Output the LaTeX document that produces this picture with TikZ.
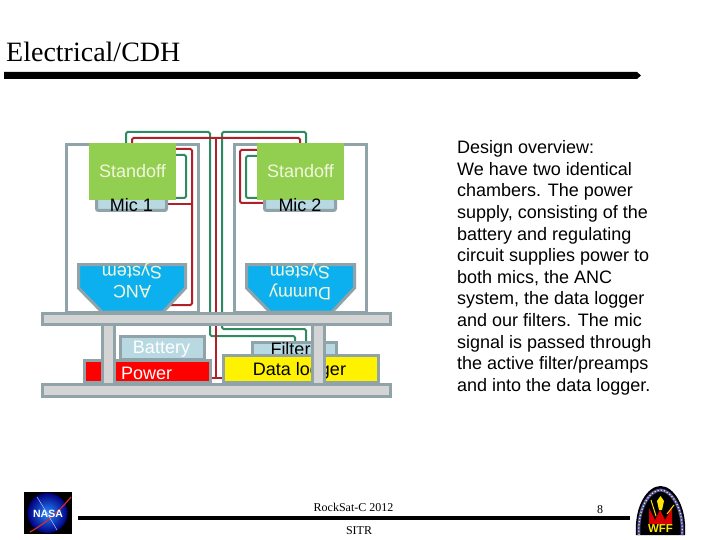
\documentclass[tikz,border=0pt]{standalone}
\usepackage{fontspec}
\setmainfont{Liberation Sans}
\newfontfamily\timesf{Liberation Serif}
\definecolor{edgegray}{HTML}{8FA3A8}
\definecolor{shelfgray}{HTML}{D4D4D4}
\definecolor{pale}{HTML}{B8D9E2}
\definecolor{leaf}{HTML}{92CF50}
\definecolor{sky}{HTML}{0DB0EE}
\definecolor{wirer}{HTML}{B02028}
\definecolor{wireg}{HTML}{2E8B60}
\definecolor{softw}{HTML}{F2F7DC}
\tikzset{
 box/.style={draw=edgegray,line width=3pt,inner sep=0,outer sep=0,font=\fontsize{18}{20}\selectfont,text=black},
 leafbox/.style={fill=leaf,inner sep=0,outer sep=0,font=\fontsize{18}{20}\selectfont,text=softw},
 wr/.style={draw=wirer,line width=2pt,rounded corners=1.5pt},
 wg/.style={draw=wireg,line width=2pt,rounded corners=1.5pt},
 lab/.style={inner sep=0,font=\fontsize{18}{20}\selectfont},
 serifsmall/.style={inner sep=0,font=\timesf\fontsize{12}{14}\selectfont},
}
\begin{document}
\begin{tikzpicture}[x=1pt,y=-1pt]
\useasboundingbox (0,0) rectangle (720,540);
\fill[white] (0,0) rectangle (720,540);
% anchors for wires
\coordinate (anchook) at (169,305);
\node[inner sep=0,outer sep=0,minimum width=87pt,minimum height=57pt] (so1) at (132.5,171.5) {};
\node[inner sep=0,outer sep=0,minimum width=87pt,minimum height=57pt] (so2) at (300.5,171.5) {};
\node[inner sep=0,outer sep=0,minimum width=73pt,minimum height=15pt] (m1) at (131.5,204.5) {};
\node[inner sep=0,outer sep=0,minimum width=74pt,minimum height=15pt] (m2) at (300,204.5) {};
\node[inner sep=0,outer sep=0,minimum width=87pt,minimum height=14pt] (fl) at (294.5,348) {};
\node[inner sep=0,outer sep=0,minimum width=129pt,minimum height=24pt] (pw) at (147.5,371) {};
\node[inner sep=0,outer sep=0,minimum width=158pt,minimum height=30pt] (dl) at (301,368) {};
% wires
\draw[wg] ([xshift=-6.5pt]so1.north) -- (126,132) -- (210,132) -- (210,336) -- (295,336) -- ([xshift=0.5pt]fl.north);
\draw[wg] ([xshift=5.5pt]so2.north) -- (306,132) -- (222,132) -- (222,329) -- (306,329) -- (306,341);
\draw[wr] ([xshift=-0.5pt]so1.north) -- (132,138) -- (300,138) -- ([xshift=-0.5pt]so2.north);
\draw[wr] (216,138) -- (216,378);
\draw[wr] (pw.east |- 0,378) -- (dl.west |- 0,378);
\draw[wr] (so1.east |- 0,149) -- (192,149) -- (192,305) -- (anchook);
\draw[wr] (m1.east) -- (192,204.5);
\draw[wg] (so1.east |- 0,155) -- (186,155) -- (186,198) -- (m1.east |- 0,198);
\draw[wr] (so2.west |- 0,150) -- (240,150) -- (240,203) -- (m2.west |- 0,203);
\draw[wg] (so2.west |- 0,156) -- (246,156) -- (246,198) -- (m2.west |- 0,198);
% chambers
\node[box,minimum width=132pt,minimum height=168pt] (ch1) at (132.5,228.5) {};
\node[box,minimum width=132pt,minimum height=168pt] (ch2) at (300.5,228.5) {};
% mics
\node[box,fill=pale,rounded corners=2pt,minimum width=70pt,minimum height=12pt] (mic1) at (131.5,204.5) {};
\node[box,fill=pale,rounded corners=2pt,minimum width=71pt,minimum height=12pt] (mic2) at (300,204.5) {};
\node[leafbox,minimum width=87pt,minimum height=57pt] (st1) at (132.5,171.5) {Standoff};
\node[leafbox,minimum width=87pt,minimum height=57pt] (st2) at (300.5,171.5) {Standoff};
\node[lab] (mt1) at (131.5,205) {Mic 1};
\node[lab] (mt2) at (300,205) {Mic 2};
% cones
\filldraw[draw=edgegray,fill=sky,line width=3pt,line join=miter] (78.5,264.5) -- (185.5,264.5) -- (185.5,288) -- (163,312) -- (102,312) -- (78.5,288) -- cycle;
\filldraw[draw=edgegray,fill=sky,line width=3pt,line join=miter] (246.5,264.5) -- (354.5,264.5) -- (354.5,288) -- (332,312) -- (270,312) -- (246.5,288) -- cycle;
\node[lab,rotate=180,text=softw] (anc1) at (132,292) {ANC};
\node[lab,rotate=180,text=softw] (sys1) at (132,270.5) {System};
\node[lab,rotate=180,text=softw] (dum) at (300,292) {Dummy};
\node[lab,rotate=180,text=softw] (sys2) at (300,270.5) {System};
% lower bay
\node[box,fill=pale,minimum width=84pt,minimum height=23pt] (bat) at (162.5,348) {};
\node[lab,text=white] (batt) at (161.5,349) {Battery};
\node[box,fill=red,minimum width=126pt,minimum height=22pt] (pow) at (147.5,371.5) {};
\node[lab,text=white,anchor=west] (powt) at (121,373) {Power};
\node[box,fill=pale,minimum width=84pt,minimum height=14pt] (fil) at (294.5,349) {};
\node[lab] (filt) at (295,349) {Filters};
\node[box,fill=yellow,minimum width=155pt,minimum height=27pt] (dat) at (301,368.5) {};
\node[lab] (datt) at (299.5,371) {Data logger};
% posts
\node[box,fill=shelfgray,minimum width=12pt,minimum height=62pt] (p1) at (108.5,354.5) {};
\node[box,fill=shelfgray,minimum width=12pt,minimum height=62pt] (p2) at (318.5,354.5) {};
% shelves
\node[box,fill=shelfgray,minimum width=348pt,minimum height=11pt] (sh1) at (216.5,319) {};
\node[box,fill=shelfgray,minimum width=348pt,minimum height=12pt] (sh2) at (216.5,390.5) {};
% title and rules
\node[inner sep=0,anchor=base west,font=\timesf\fontsize{28}{30}\selectfont] (ttl) at (6,61.5) {Electrical/CDH};
\fill[black] (4,72) -- (637,72) -- (641,75.5) -- (637,79) -- (4,79) -- cycle;
\fill[black] (78,516) rectangle (630,520);
% overview
\node[inner sep=0,anchor=north west,align=left,font=\fontsize{18}{21.6}\selectfont] (txt) at (457,140.5) {Design overview:\\We have two identical\\chambers.  The power\\supply, consisting of the\\battery and regulating\\circuit supplies power to\\both mics, the ANC\\system, the data logger\\and our filters.  The mic\\signal is passed through\\the active filter/preamps\\and into the data logger.};
\node[serifsmall] (foot) at (353.5,507.5) {RockSat-C 2012};
\node[serifsmall] (sitr) at (359,530.5) {SITR};
\node[serifsmall] (pg) at (600,510) {8};
% NASA logo
\fill[black] (24,492) rectangle (72,534);
\shade[inner color=blue!55!cyan!85,outer color=blue!50!black] (47.5,513) circle (20);
\draw[red!65!gray,line width=1.2pt] (30,532) .. controls (48,522) and (62,508) .. (71,497);
\draw[white!75!blue,line width=.5pt] (37,497) .. controls (44,508) and (50,518) .. (57,530);
\node[inner sep=0,text=white,font=\bfseries\fontsize{10.5}{11}\selectfont] (nasa) at (48,513.5) {NASA};
% WFF logo
\fill[black] (636,535) .. controls (634,505) and (648,486) .. (660.5,486) .. controls (673,486) and (687,505) .. (685,535) -- cycle;
\draw[blue!40!gray,line width=3pt] (639,535) .. controls (637,508) and (650,490) .. (660.5,490) .. controls (671,490) and (684,508) .. (682,535);
\draw[yellow!70!white,line width=1.2pt,dotted] (639,535) .. controls (637,508) and (650,490) .. (660.5,490) .. controls (671,490) and (684,508) .. (682,535);
\fill[red!85!black] (649,508) -- (655,520) -- (660,510) -- (665,520) -- (672,508) -- (672,524) -- (649,524) -- cycle;
\fill[yellow!90!orange] (660.5,496) -- (664,501) -- (662,510) -- (659,510) -- (657,501) -- cycle;
\draw[yellow!80!orange,line width=1pt] (651,500) -- (656,516);
\draw[yellow!80!orange,line width=1pt] (674,505) -- (667,514);
\node[inner sep=0,text=yellow!90!orange,font=\bfseries\fontsize{11.5}{12}\selectfont] (wff) at (660.5,529) {WFF};
\end{tikzpicture}
\end{document}
